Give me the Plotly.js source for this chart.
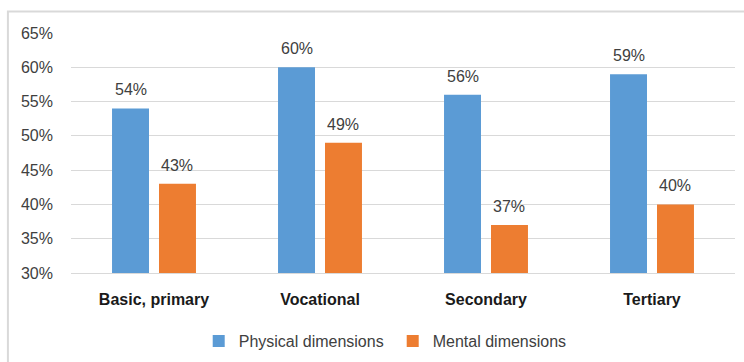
<!DOCTYPE html>
<html>
<head>
<meta charset="utf-8">
<script src="https://cdn.plot.ly/plotly-3.0.1.min.js"></script>
<style>
  html, body { margin: 0; padding: 0; background: #ffffff; }
  #chart { width: 744px; height: 362px; }
</style>
</head>
<body>
<div id="chart"></div>
<script>
// Share of respondents by education level
const categories = ["Basic, primary", "Vocational", "Secondary", "Tertiary"];
const physical = [54, 60, 56, 59];
const mental = [43, 49, 37, 40];
const seriesNames = ["Physical dimensions", "Mental dimensions"];
const yTicks = [30, 35, 40, 45, 50, 55, 60, 65];

const FONT = "Liberation Sans, Arial, sans-serif";
const BLUE = "#5b9bd5";
const ORANGE = "#ed7d31";
const GRID = "#d9d9d9";

const catLabels = categories.map(c => "<b>" + c + "</b>");

const BARGAP = 0.434;
const GROUPGAP = 0.213;
// centre offset of each bar within its category (two bars per group)
const slot = (1 - BARGAP) / 2;

function labels(values, sign) {
  return values.map((v, i) => ({
    x: i + sign * slot / 2,
    y: v,
    xref: "x",
    yref: "y",
    text: v + "%",
    showarrow: false,
    yanchor: "bottom",
    yshift: 8,
    font: { family: FONT, size: 16, color: "#404040" }
  }));
}

const traces = [
  {
    type: "bar",
    name: seriesNames[0],
    x: [0, 1, 2, 3],
    y: physical,
    marker: { color: BLUE },
    hoverinfo: "skip"
  },
  {
    type: "bar",
    name: seriesNames[1],
    x: [0, 1, 2, 3],
    y: mental,
    marker: { color: ORANGE },
    hoverinfo: "skip"
  }
];

const layout = {
  width: 744,
  height: 362,
  margin: { l: 71, r: 9, t: 33, b: 89, autoexpand: false },
  paper_bgcolor: "#ffffff",
  plot_bgcolor: "#ffffff",
  font: { family: FONT, size: 16, color: "#404040" },
  barmode: "group",
  bargap: BARGAP,
  bargroupgap: GROUPGAP,
  showlegend: true,
  legend: {
    orientation: "h",
    x: 0.4845,
    xanchor: "center",
    y: -0.213,
    yanchor: "top",
    font: { family: FONT, size: 16, color: "#404040" },
    itemwidth: 30,
    entrywidth: 149,
    entrywidthmode: "pixels",
    traceorder: "normal"
  },
  xaxis: {
    tickmode: "array",
    tickvals: [0, 1, 2, 3],
    ticktext: catLabels,
    range: [-0.5, 3.5],
    showgrid: false,
    zeroline: false,
    showline: true,
    linecolor: GRID,
    linewidth: 1,
    ticks: "",
    ticklabelstandoff: 12,
    tickfont: { family: FONT, size: 16, color: "#1a1a1a" },
    fixedrange: true
  },
  yaxis: {
    range: [30, 65],
    tickmode: "array",
    tickvals: yTicks,
    ticktext: yTicks.map(t => t + "%"),
    showgrid: true,
    gridcolor: GRID,
    gridwidth: 1,
    zeroline: false,
    showline: false,
    ticks: "",
    ticklabelstandoff: 17,
    tickfont: { family: FONT, size: 16, color: "#404040" },
    fixedrange: true
  },
  annotations: labels(physical, -1).concat(labels(mental, 1)),
  shapes: [
    {
      type: "path",
      xref: "paper",
      yref: "paper",
      path: "M -0.095,-0.5 L -0.095,1.09 L 1.05,1.09",
      line: { color: GRID, width: 2 }
    }
  ]
};

Plotly.newPlot("chart", traces, layout, { displayModeBar: false, staticPlot: true });
</script>
</body>
</html>
